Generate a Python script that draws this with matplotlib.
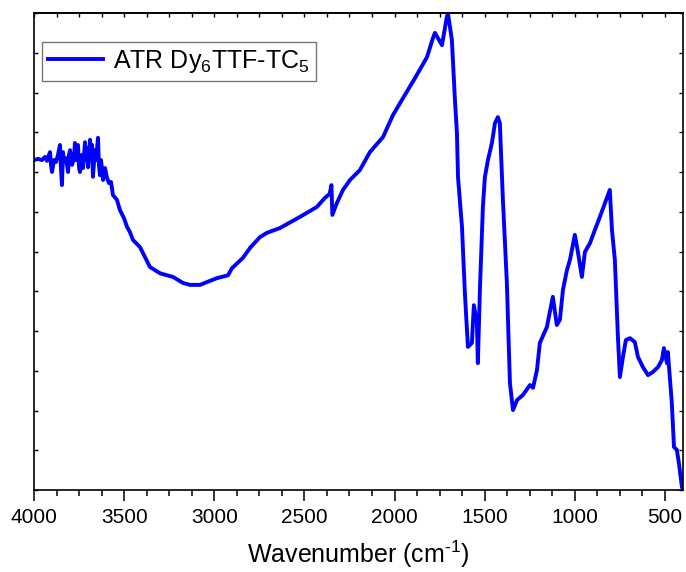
import matplotlib
matplotlib.use("Agg")
import matplotlib.pyplot as plt
from matplotlib.ticker import MultipleLocator

plt.rcParams["font.family"] = ["Liberation Sans", "DejaVu Sans"]
plt.rcParams["mathtext.fontset"] = "custom"
plt.rcParams["mathtext.rm"] = "Liberation Sans"
plt.rcParams["mathtext.it"] = "Liberation Sans:italic"

# ATR spectrum (wavenumber in cm-1, transmittance in arb. units)
wavenumber = [
    4000, 3978, 3956, 3939, 3928, 3917, 3911, 3906, 3900, 3889, 3878, 3867, 3856, 3850,
    3845, 3839, 3834, 3823, 3811, 3806, 3800, 3789, 3778, 3773, 3767, 3756, 3750, 3745,
    3734, 3728, 3717, 3712, 3706, 3700, 3689, 3684, 3678, 3673, 3662, 3656, 3645, 3640,
    3634, 3628, 3617, 3606, 3595, 3584, 3573, 3562, 3540, 3523, 3501, 3484, 3468, 3451,
    3412, 3357, 3300, 3229, 3174, 3135, 3079, 3041, 2985, 2924, 2902, 2841, 2800, 2747,
    2708, 2636, 2525, 2431, 2386, 2360, 2350, 2345, 2320, 2286, 2247, 2192, 2137, 2064,
    2009, 1953, 1887, 1820, 1787, 1776, 1737, 1710, 1704, 1682, 1665, 1654, 1648, 1626,
    1610, 1593, 1571, 1560, 1543, 1538, 1526, 1510, 1499, 1482, 1460, 1443, 1427, 1416,
    1399, 1377, 1360, 1343, 1321, 1288, 1249, 1232, 1210, 1194, 1155, 1122, 1100, 1083,
    1066, 1044, 1027, 1000, 983, 961, 944, 916, 889, 861, 833, 806, 794, 778, 761, 750,
    733, 717, 694, 667, 650, 622, 594, 567, 539, 517, 506, 489, 484, 462, 450, 434, 423,
    406, 400,
]
transmittance = [
    8.30, 8.33, 8.30, 8.38, 8.28, 8.43, 8.50, 8.20, 8.00, 8.30, 8.25, 8.43, 8.68, 8.05,
    7.67, 8.50, 8.25, 8.35, 8.00, 8.43, 8.55, 8.18, 8.35, 8.73, 8.30, 8.68, 8.10, 8.00,
    8.43, 8.10, 8.75, 8.30, 8.60, 8.12, 8.81, 8.35, 8.68, 7.88, 8.55, 8.30, 8.86, 8.18,
    7.92, 8.30, 7.80, 8.10, 7.85, 7.72, 7.75, 7.42, 7.30, 7.04, 6.84, 6.62, 6.49, 6.29,
    6.11, 5.61, 5.45, 5.36, 5.21, 5.16, 5.16, 5.23, 5.33, 5.40, 5.58, 5.84, 6.10, 6.36,
    6.47, 6.59, 6.87, 7.12, 7.35, 7.45, 7.67, 6.92, 7.22, 7.55, 7.80, 8.05, 8.50, 8.88,
    9.43, 9.86, 10.36, 10.89, 11.37, 11.50, 11.19, 11.90, 12.00, 11.32, 9.81, 8.98, 7.87, 6.62,
    4.96, 3.60, 3.70, 4.65, 4.20, 3.19, 5.11, 7.12, 7.87, 8.30, 8.73, 9.23, 9.38, 9.23,
    7.30, 5.21, 2.69, 2.01, 2.26, 2.39, 2.64, 2.57, 3.02, 3.70, 4.10, 4.86, 4.15, 4.28,
    5.03, 5.53, 5.79, 6.42, 5.99, 5.36, 5.99, 6.21, 6.54, 6.87, 7.22, 7.55, 6.54, 5.79, 3.85, 2.84,
    3.35, 3.77, 3.82, 3.72, 3.35, 3.09, 2.89, 2.97, 3.09, 3.27, 3.57, 3.19, 3.47, 2.19, 1.08, 1.01, 0.68,
    0.08, 0.0,
]
label = "ATR Dy$_6$TTF-TC$_5$"

fig = plt.figure(figsize=(6.86, 5.72), dpi=100)
ax = fig.add_axes([34 / 686, 1 - 490 / 572, 649 / 686, 477 / 572])

ax.plot(wavenumber, transmittance, color="#0000ff", linewidth=2.8, label=label)

ax.set_xlim(4000, 400)
ax.set_ylim(0, 12)
ax.xaxis.set_major_locator(MultipleLocator(500))
ax.xaxis.set_minor_locator(MultipleLocator(125))
ax.yaxis.set_major_locator(MultipleLocator(1))

ax.tick_params(axis="x", which="major", direction="out", length=8, width=1.1,
               labelsize=15, pad=5)
ax.tick_params(axis="x", which="minor", direction="out", length=4.5, width=1.1)
ax.tick_params(axis="y", which="both", direction="in", length=3, width=1.0,
               left=True, right=True, labelleft=False)

top = ax.secondary_xaxis("top")
top.xaxis.set_major_locator(MultipleLocator(500))
top.xaxis.set_minor_locator(MultipleLocator(125))
top.tick_params(which="both", direction="in", length=3, width=1.0, labeltop=False)

for spine in ax.spines.values():
    spine.set_linewidth(1.2)
top.spines["top"].set_linewidth(1.2)

ax.set_xlabel("Wavenumber (cm$^{\\text{-1}}$)", fontsize=18, labelpad=8)

leg = ax.legend(loc="upper left", bbox_to_anchor=(0.012, 0.94), fontsize=18,
                frameon=True, fancybox=False, borderpad=0.25, handlelength=2.2,
                handletextpad=0.4, borderaxespad=0)
leg.get_frame().set_edgecolor("#555555")
leg.get_frame().set_linewidth(1.0)

fig.savefig("out.png", dpi=100)
